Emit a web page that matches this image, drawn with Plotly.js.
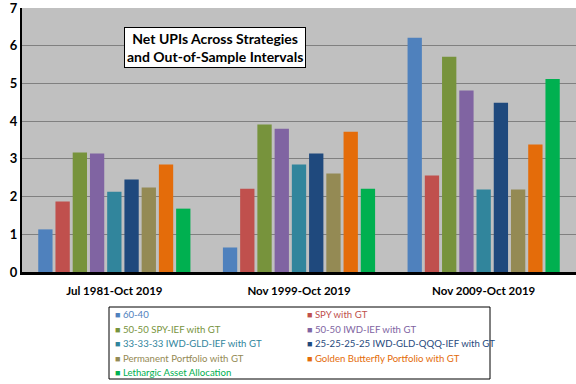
<!DOCTYPE html>
<html><head><meta charset="utf-8">
<script src="https://cdn.plot.ly/plotly-3.0.1.min.js"></script>
<style>html,body{margin:0;padding:0;background:#fff}#c{width:576px;height:384px}</style>
</head><body><div id="c"></div>
<script>
const periods = ["Jul 1981-Oct 2019", "Nov 1999-Oct 2019", "Nov 2009-Oct 2019"];
const seriesNames = ["60-40", "SPY with GT", "50-50 SPY-IEF with GT", "50-50 IWD-IEF with GT",
  "33-33-33 IWD-GLD-IEF with GT", "25-25-25-25 IWD-GLD-QQQ-IEF with GT",
  "Permanent Portfolio with GT", "Golden Butterfly Portfolio with GT", "Lethargic Asset Allocation"];
const v6040 = [1.13, 0.65, 6.21];
const vSPY = [1.87, 2.21, 2.56];
const vSPYIEF = [3.17, 3.91, 5.71];
const vIWDIEF = [3.14, 3.80, 4.81];
const v333333 = [2.13, 2.85, 2.19];
const v25x4 = [2.45, 3.14, 4.49];
const vPerm = [2.24, 2.61, 2.19];
const vGolden = [2.85, 3.72, 3.38];
const vLethargic = [1.68, 2.21, 5.12];
const seriesValues = [v6040, vSPY, vSPYIEF, vIWDIEF, v333333, v25x4, vPerm, vGolden, vLethargic];
const colors = ["#4F81BD", "#C0504D", "#77933C", "#8064A2", "#31859C", "#1F497D", "#948A54", "#E46C0A", "#00B050"];
const yTicks = [0, 1, 2, 3, 4, 5, 6, 7];

const W = 576, H = 384, ML = 22, MR = 0, MT = 8, MB = 112;
const PW = W - ML - MR, PH = H - MT - MB;
const px = x => (x - ML) / PW;
const py = y => 1 - (y - MT) / PH;

const traces = seriesNames.map((n, i) => ({
  type: "bar", x: periods, y: seriesValues[i], marker: {color: colors[i]}, name: n
}));

// legend drawn as a two-column boxed list (as in the reference)
const legendAnn = seriesNames.map((n, i) => ({
  xref: "paper", yref: "paper", x: px(i % 2 === 0 ? 113 : 305), y: py(314.5 + Math.floor(i / 2) * 14.5),
  xanchor: "left", yanchor: "middle", showarrow: false,
  text: '<span style="font-size:9px">■</span> ' + n,
  font: {size: 9.6, family: "Lato", color: colors[i]}
}));

const layout = {
  width: W, height: H,
  margin: {l: ML, r: MR, t: MT, b: MB, autoexpand: false},
  paper_bgcolor: "#ffffff", plot_bgcolor: "#c0c0c0",
  font: {family: "Lato, 'Open Sans', sans-serif", color: "#000"},
  barmode: "group", bargap: 0.16, bargroupgap: 0.17,
  showlegend: false,
  xaxis: {showline: true, linecolor: "#000", linewidth: 3, ticks: "outside", ticklen: 6,
    tickcolor: "rgba(0,0,0,0)", showgrid: false,
    tickfont: {size: 11.5, family: "Lato", weight: "bold"}},
  yaxis: {range: [0, 7], tickvals: yTicks, showgrid: true, gridcolor: "#808080", gridwidth: 1,
    showline: true, linecolor: "#000", linewidth: 2, zeroline: false, ticks: "",
    ticklabeloverflow: "allow",
    tickfont: {size: 13, family: "Lato", weight: "bold"}},
  shapes: [{type: "rect", xref: "paper", yref: "paper", x0: px(109), x1: px(490), y0: py(307), y1: py(379),
    line: {color: "#000", width: 1}, fillcolor: "#fff", layer: "below"}],
  annotations: [{xref: "paper", yref: "paper", x: px(215), y: py(47.5), xanchor: "center", yanchor: "middle",
    text: "Net UPIs Across Strategies<br>and Out-of-Sample Intervals", showarrow: false,
    font: {size: 14, family: "Lato", weight: "bold", color: "#000"},
    bgcolor: "#fff", bordercolor: "#000", borderwidth: 1, borderpad: 2}].concat(legendAnn)
};
Plotly.newPlot("c", traces, layout, {displayModeBar: false});
</script></body></html>
